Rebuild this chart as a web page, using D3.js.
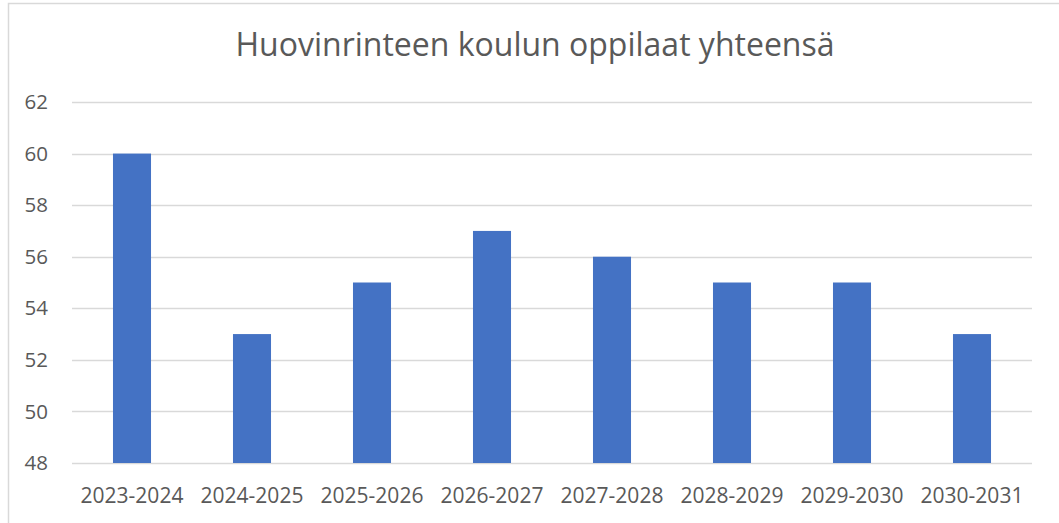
<!DOCTYPE html>
<html>
<head>
<meta charset="utf-8">
<script src="https://cdn.jsdelivr.net/npm/d3@7"></script>
<style>
  html, body { margin: 0; padding: 0; background: #fff; }
  svg { display: block; font-family: "Open Sans", sans-serif; }
</style>
</head>
<body>
<div id="chart"></div>
<script>
// Chart data
const categories = ['2023-2024', '2024-2025', '2025-2026', '2026-2027', '2027-2028', '2028-2029', '2029-2030', '2030-2031'];
const values = [60, 53, 55, 57, 56, 55, 55, 53];
const yTicks = [48, 50, 52, 54, 56, 58, 60, 62];
const title = 'Huovinrinteen koulun oppilaat yhteensä';

const W = 1059, H = 523;
const margin = { top: 102, right: 27, bottom: 60, left: 72 };
const width = W - margin.left - margin.right;
const height = H - margin.top - margin.bottom;

const svg = d3.select('#chart').append('svg')
  .attr('width', W)
  .attr('height', H);

// Chart frame
svg.append('rect')
  .attr('x', 8.5).attr('y', 3.5)
  .attr('width', W + 10).attr('height', H + 10)
  .attr('fill', 'none')
  .attr('stroke', '#d9d9d9')
  .attr('stroke-width', 1.5);

svg.append('text')
  .attr('x', 535)
  .attr('y', 56)
  .attr('text-anchor', 'middle')
  .attr('fill', '#595959')
  .style('font-size', '32px')
  .text(title);

const g = svg.append('g').attr('transform', `translate(${margin.left},${margin.top})`);

const x = d3.scaleBand().domain(categories).range([0, width]).paddingInner(0.683).paddingOuter(0.3415);
const y = d3.scaleLinear().domain([48, 62]).range([height, 0]);

// Gridlines
g.selectAll('.grid')
  .data(yTicks)
  .enter()
  .append('line')
  .attr('x1', 0).attr('x2', width)
  .attr('y1', d => Math.round(y(d)) + 0.5)
  .attr('y2', d => Math.round(y(d)) + 0.5)
  .attr('stroke', '#d9d9d9')
  .attr('stroke-width', 1.3);

// Bars
g.selectAll('.bar')
  .data(values)
  .enter()
  .append('rect')
  .attr('x', (d, i) => x(categories[i]))
  .attr('width', x.bandwidth())
  .attr('y', d => y(d))
  .attr('height', d => height - y(d))
  .attr('fill', '#4472c4');

// Y axis labels
g.selectAll('.ylab')
  .data(yTicks)
  .enter()
  .append('text')
  .attr('x', -24)
  .attr('y', d => y(d))
  .attr('dy', '0.35em')
  .attr('text-anchor', 'end')
  .attr('fill', '#595959')
  .style('font-size', '20.5px')
  .text(d => d);

// X axis labels
g.selectAll('.xlab')
  .data(categories)
  .enter()
  .append('text')
  .attr('x', d => x(d) + x.bandwidth() / 2)
  .attr('y', height + 40)
  .attr('text-anchor', 'middle')
  .attr('fill', '#595959')
  .style('font-size', '21px')
  .text(d => d);
</script>
</body>
</html>
